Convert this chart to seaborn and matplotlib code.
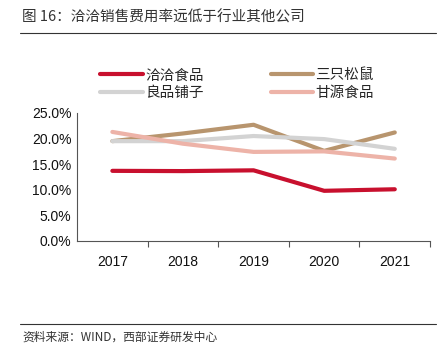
import matplotlib
matplotlib.use("Agg")
import matplotlib.pyplot as plt
import seaborn as sns
import pandas as pd
from matplotlib.lines import Line2D
from matplotlib.ticker import FuncFormatter, FixedLocator

years = ["2017", "2018", "2019", "2020", "2021"]
qiaqia = [13.7, 13.65, 13.8, 9.8, 10.1]
songshu = [19.5, 21.0, 22.7, 17.6, 21.2]
liangpin = [19.5, 19.5, 20.5, 19.9, 18.0]
ganyuan = [21.3, 19.0, 17.4, 17.5, 16.1]

names = ["洽洽食品", "三只松鼠", "良品铺子", "甘源食品"]
series = [qiaqia, songshu, liangpin, ganyuan]
colors = ["#C8102E", "#B8956E", "#D3D3D3", "#EDB3A8"]

title = "图 16：洽洽销售费用率远低于行业其他公司"
source = "资料来源：WIND，西部证券研发中心"

rows = []
for n, s in zip(names, series):
    for y, v in zip(years, s):
        rows.append({"year": y, "value": v, "company": n})
df = pd.DataFrame(rows)

sns.set_theme(style="white")
plt.rcParams["font.family"] = ["Liberation Sans", "Noto Sans CJK SC", "DejaVu Sans"]

fig = plt.figure(figsize=(4.48, 3.57), dpi=100)
ax = fig.add_axes([0.172, 0.325, 0.788, 0.3585])

sns.lineplot(data=df, x="year", y="value", hue="company",
             hue_order=["三只松鼠", "良品铺子", "甘源食品", "洽洽食品"],
             palette={n: c for n, c in zip(names, colors)},
             linewidth=3.0, ax=ax, legend=False, sort=False)

ax.set_xlim(-0.5, 4.5)
ax.set_ylim(0, 25)
ax.set_yticks([0, 5, 10, 15, 20, 25])
ax.yaxis.set_major_formatter(FuncFormatter(lambda v, p: f"{v:.1f}%"))
ax.set_xlabel("")
ax.set_ylabel("")
for s in ["top", "right"]:
    ax.spines[s].set_visible(False)
for s in ["left", "bottom"]:
    ax.spines[s].set_color("#555555")
    ax.spines[s].set_linewidth(0.8)
ax.tick_params(axis="y", length=0, labelsize=10, colors="#111111", pad=4)
ax.tick_params(axis="x", which="major", length=0, labelsize=10, colors="#111111", pad=10)
ax.xaxis.set_minor_locator(FixedLocator([0.5, 1.5, 2.5, 3.5, 4.5]))
ax.tick_params(axis="x", which="minor", length=4, width=0.8, color="#555555", direction="out", bottom=True)
ax.grid(False)

handles = [Line2D([], [], color=c, lw=3.0) for c in colors]
h = [handles[0], handles[2], handles[1], handles[3]]
l = [names[0], names[2], names[1], names[3]]
fig.legend(h, l, ncol=2, loc="upper left", bbox_to_anchor=(0.195, 0.845),
           frameon=False, handlelength=2.9, handletextpad=0.15,
           columnspacing=4.6, labelspacing=0.25,
           prop={"family": ["Noto Sans CJK SC", "DejaVu Sans"], "size": 10.5})

fig.text(22 / 448, 1 - 17 / 357, title, fontsize=10.5, color="#333333",
         va="center", ha="left", family=["Noto Sans CJK SC", "DejaVu Sans"])
fig.text(22 / 448, 1 - 337 / 357, source, fontsize=8.5, color="#333333",
         va="center", ha="left", family=["Noto Sans CJK SC", "DejaVu Sans"])
fig.add_artist(Line2D([20 / 448, 436 / 448], [1 - 33 / 357, 1 - 33 / 357],
                      color="#333333", lw=0.8))
fig.add_artist(Line2D([20 / 448, 436 / 448], [1 - 324 / 357, 1 - 324 / 357],
                      color="#333333", lw=0.8))

fig.savefig("out.png", dpi=100)
